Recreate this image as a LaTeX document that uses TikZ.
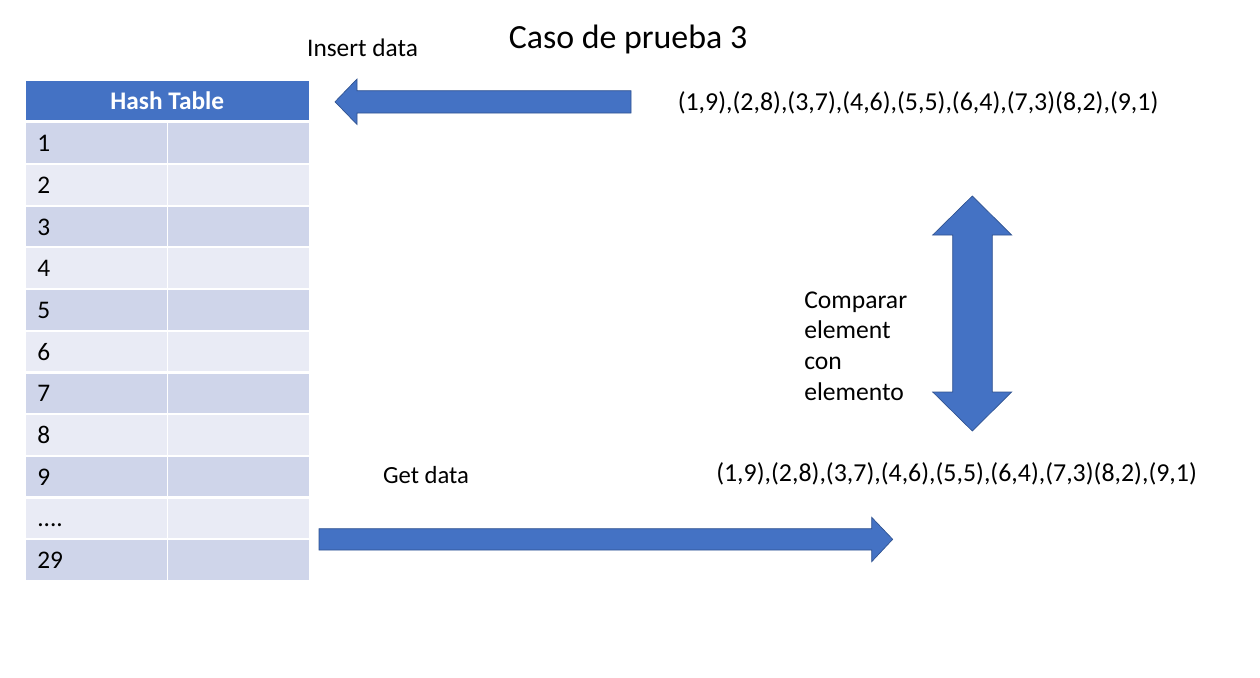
\documentclass[tikz,border=0pt]{standalone}
\usepackage{fontspec}
\setmainfont{Carlito}
\definecolor{hdr}{HTML}{4472C4}
\definecolor{rowA}{HTML}{CFD5EA}
\definecolor{rowB}{HTML}{E9EBF5}
\definecolor{arrline}{HTML}{2F528F}
\begin{document}
\begin{tikzpicture}[x=0.75pt,y=-0.75pt,
  txt/.style={inner sep=0pt, anchor=base, font=\fontsize{19}{23}\selectfont},
  lab/.style={inner sep=0pt, anchor=base west, font=\fontsize{19}{22}\selectfont},
  blockarrow/.style={fill=hdr, draw=arrline, line width=0.5pt, line join=miter}]
\useasboundingbox (0,0) rectangle (1260,678);
% table header
\fill[hdr] (26,81) rectangle (308.7,119.5);
\node[txt, font=\fontsize{19}{22}\selectfont\bfseries, text=white] (hdrtxt) at (167.3,109.3) {Hash Table};
% table rows
\foreach \i in {0,...,10} {
  \pgfmathsetmacro\rtop{123.3+41.7*\i}
  \pgfmathsetmacro\rbot{\rtop+39.5}
  \ifodd\i\relax\def\rc{rowB}\else\def\rc{rowA}\fi
  \fill[\rc] (26,\rtop) rectangle (166.7,\rbot);
  \fill[\rc] (168.3,\rtop) rectangle (308.7,\rbot);
}
\foreach \n in {1,...,9} {
  \pgfmathsetmacro\rb{123.3+41.7*(\n-1)+28.3}
  \node[lab] (lab\n) at (37,\rb) {\n};
}
\node[lab] (labdots) at (37,{123.3+41.7*9+28.3}) {....};
\node[lab] (lab29) at (37,{123.3+41.7*10+28.3}) {29};
% texts
\node[txt, font=\fontsize{25.4}{30}\selectfont] (title) at (628,48) {Caso de prueba 3};
\node[txt] (insert) at (362.5,56) {Insert data};
\node[txt, font=\fontsize{19.4}{23}\selectfont] (data1) at (918,110) {(1,9),(2,8),(3,7),(4,6),(5,5),(6,4),(7,3)(8,2),(9,1)};
\node[txt, font=\fontsize{19.4}{23}\selectfont] (data2) at (956.5,481) {(1,9),(2,8),(3,7),(4,6),(5,5),(6,4),(7,3)(8,2),(9,1)};
\node[txt, font=\fontsize{18.5}{23}\selectfont] (getdata) at (426,483.3) {Get data};
\node[inner sep=0pt, anchor=base west, align=left, font=\fontsize{19.2}{23.1}\selectfont] (cmp) at (804,400.5) {Comparar\\element\\con\\elemento};
% block arrows
\draw[blockarrow] (631,90.7) -- (357,90.7) -- (357,79) -- (335,101.8) -- (357,124.5) -- (357,113) -- (631,113) -- cycle;
\draw[blockarrow] (319,528.7) -- (871.7,528.7) -- (871.7,517.3) -- (892.7,539.3) -- (871.7,561.7) -- (871.7,550) -- (319,550) -- cycle;
\draw[blockarrow] (972.3,196) -- (1011.7,235) -- (992.3,235) -- (992.3,392) -- (1011.7,392) -- (972.3,431) -- (932.7,392) -- (952.7,392) -- (952.7,235) -- (932.7,235) -- cycle;
\end{tikzpicture}
\end{document}
